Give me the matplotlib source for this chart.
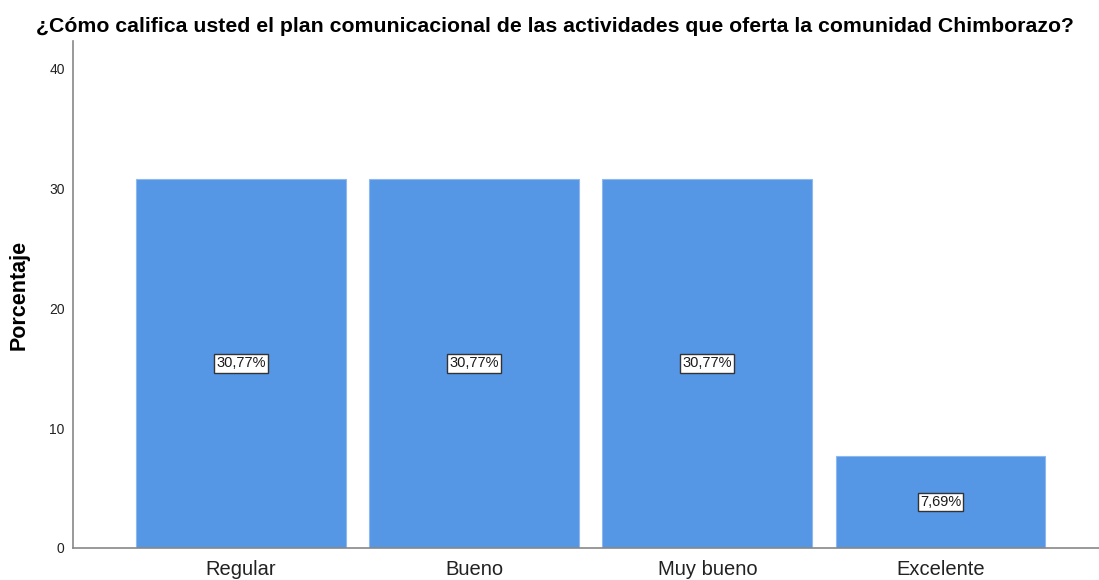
import matplotlib
matplotlib.use("Agg")
import matplotlib.pyplot as plt

plt.rcParams['font.family'] = ['Liberation Sans', 'DejaVu Sans']

categories = ["Regular", "Bueno", "Muy bueno", "Excelente"]
percentages = [30.77, 30.77, 30.77, 7.69]
yticks = [0, 10, 20, 30, 40]

fig = plt.figure(figsize=(10.99, 5.8), dpi=100)
ax = fig.add_axes([0.0664, 0.0552, 0.9336, 0.874])

x = list(range(len(categories)))
ax.bar(x, percentages, width=0.9, color='#5596e5', edgecolor='#8fb8ee', linewidth=0.8)

for xi, v in zip(x, percentages):
    label = f"{v:.2f}".replace('.', ',') + "%"
    ax.text(xi, v / 2, label, ha='center', va='center', fontsize=10.5, color='#1a1a1a',
            bbox=dict(boxstyle='square,pad=0.15', facecolor='white', edgecolor='#333333', linewidth=1))

ax.set_xlim(-0.721, 3.68)
ax.set_ylim(0, 42.25)
ax.set_xticks(x)
ax.set_xticklabels(categories, fontsize=14.5, color='#222222')
ax.set_yticks(yticks)
ax.set_yticklabels([str(t) for t in yticks], fontsize=10, color='#222222')
ax.tick_params(axis='both', length=0)
ax.tick_params(axis='y', pad=6)
ax.tick_params(axis='x', pad=9)

for side in ['top', 'right']:
    ax.spines[side].set_visible(False)
for side in ['left', 'bottom']:
    ax.spines[side].set_color('#888888')
    ax.spines[side].set_linewidth(1.2)

ax.set_ylabel("Porcentaje", fontsize=15.5, fontweight='bold', labelpad=14)

fig.text(0.505, 0.955, "¿Cómo califica usted el plan comunicacional de las actividades que oferta la comunidad Chimborazo?",
         ha='center', va='center', fontsize=15.3, fontweight='bold')

fig.savefig("out.png", dpi=100)
